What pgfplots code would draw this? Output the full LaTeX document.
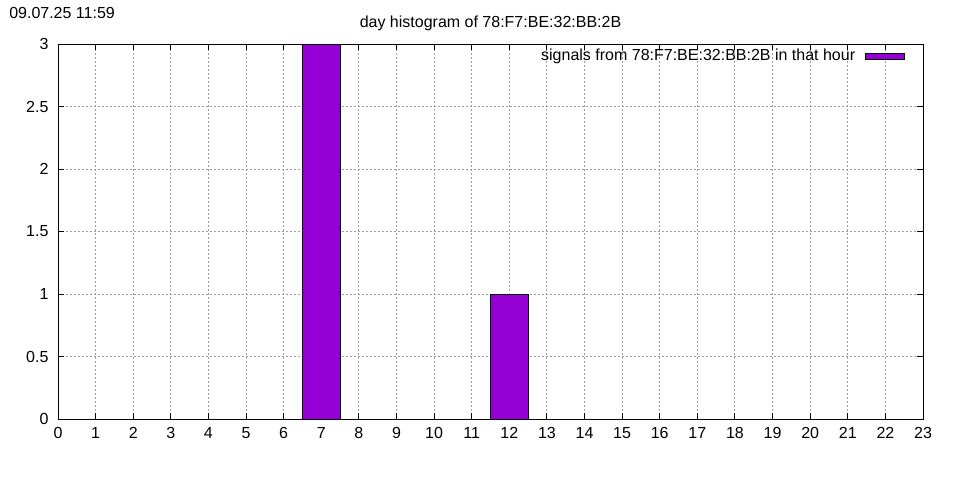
\documentclass[border=0pt]{standalone}
\usepackage{pgfplots}
\pgfplotsset{compat=1.18}
\usepackage{fontspec}
\setmainfont{Liberation Sans}
\definecolor{gpviolet}{HTML}{9400D3}
\begin{document}
\fontsize{12}{14}\selectfont
\begin{tikzpicture}
\useasboundingbox (0pt,0pt) rectangle (720pt,360pt);
\node[anchor=base west,inner sep=0pt] at (6.75pt,346pt) {09.07.25 11:59};
\begin{axis}[
  at={(43.5pt,45.75pt)}, anchor=south west,
  scale only axis, width=648.75pt, height=281.25pt,
  xmin=0, xmax=23, ymin=0, ymax=3,
  xtick={0,1,...,23}, ytick={0,0.5,...,3},
  tick align=inside, tick pos=both,
  major tick length=4.5pt,
  grid=major,
  grid style={color=black!38, dash pattern=on 1.5pt off 1.5pt, line width=0.75pt},
  axis line style={line width=0.75pt},
  every tick/.style={black, line width=0.75pt},
  /pgf/number format/assume math mode=true,
  yticklabel style={/pgf/number format/fixed, xshift=-3pt},
  xticklabel style={yshift=-2pt},
  ticklabel style={font=\fontsize{12}{14}\selectfont},
  title={day histogram of 78:F7:BE:32:BB:2B},
  title style={yshift=0pt, font=\fontsize{12}{14}\selectfont},
  legend style={draw=none, fill=none, at={(rel axis cs:0.981,0.997)}, anchor=north east, font=\fontsize{12}{14}\selectfont, inner sep=1pt},
  legend cell align=right,
  legend plot pos=right,
  legend image code/.code={\path[draw=none,fill=none] (0pt,0pt) -- (6pt,0pt);\draw[fill=gpviolet, draw=black, line width=0.75pt] (6pt,-2.3pt) rectangle (35pt,2.3pt);},
  clip=true,
]
\addplot[ybar, bar width=1, bar shift=0pt, fill=gpviolet, draw=black, line width=0.75pt]
  coordinates {
    (0,0) (1,0) (2,0) (3,0) (4,0) (5,0) (6,0) (7,3) (8,0) (9,0) (10,0) (11,0)
    (12,1) (13,0) (14,0) (15,0) (16,0) (17,0) (18,0) (19,0) (20,0) (21,0) (22,0)
  };
\addlegendentry{signals from 78:F7:BE:32:BB:2B in that hour}
\end{axis}
\end{tikzpicture}
\end{document}
